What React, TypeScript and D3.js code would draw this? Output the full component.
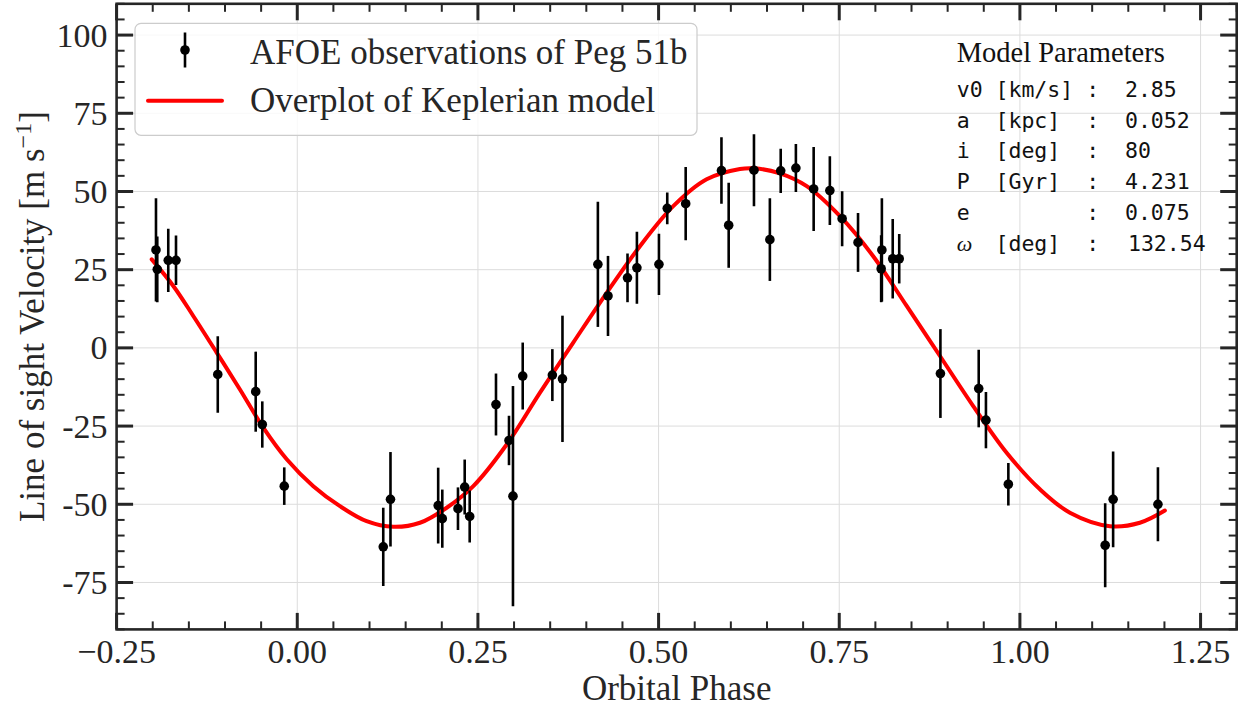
import React from 'react';
import * as d3 from 'd3';

const W = 1244;
const H = 707;

// Observations (orbital phase, line-of-sight velocity, 1-sigma error)
const phase = [
  -0.1955, -0.1937, -0.1785, -0.1678, -0.110, -0.0575, -0.0484, -0.018,
  0.119, 0.129, 0.195, 0.2007, 0.2224, 0.2317, 0.2386, 0.275, 0.293, 0.2985,
  0.312, 0.353, 0.367, 0.416, 0.430, 0.457, 0.470, 0.5005, 0.512, 0.5375,
  0.587, 0.597, 0.632, 0.654, 0.669, 0.690, 0.7146, 0.737, 0.754, 0.776,
  0.809, 0.808, 0.824, 0.833, 0.890, 0.943, 0.953, 0.984, 1.118, 1.129, 1.191,
];
const velocity = [
  31.3, 25.1, 28.0, 28.0, -8.5, -14.0, -24.5, -44.2,
  -63.6, -48.4, -50.4, -54.6, -51.4, -44.5, -53.9, -18.1, -29.6, -47.4,
  -9.0, -8.7, -9.9, 26.7, 16.6, 22.4, 25.6, 26.7, 44.6, 46.1,
  56.7, 39.2, 56.8, 34.6, 56.6, 57.5, 50.8, 50.3, 41.3, 33.7,
  31.3, 25.3, 28.5, 28.5, -8.2, -13.0, -23.1, -43.6, -63.1, -48.4, -50.0,
];
const velErr = [
  16.5, 10.5, 10.1, 7.9, 12.2, 12.8, 7.4, 6.0,
  12.5, 15.1, 12.1, 9.3, 6.8, 8.8, 8.3, 9.9, 7.9, 35.2,
  10.7, 8.3, 20.2, 20.0, 12.8, 7.8, 11.5, 9.8, 5.1, 11.7,
  10.6, 13.6, 11.5, 13.2, 7.1, 7.7, 13.4, 11.0, 8.8, 9.4,
  16.5, 10.7, 12.7, 7.9, 14.2, 12.4, 9.0, 6.8, 13.4, 15.3, 11.8,
];

// Keplerian model curve
const modelPhase = [
  -0.2014, -0.1715, -0.1439, -0.1115, -0.0793, -0.047, -0.0146, 0.0222,
  0.0591, 0.096, 0.1329, 0.1698, 0.2068, 0.2436, 0.2898, 0.3359, 0.3819,
  0.4282, 0.4742, 0.5203, 0.5665, 0.6126, 0.6333, 0.668, 0.705, 0.751,
  0.797, 0.8433, 0.8894, 0.9354, 0.9816, 1.0277, 1.0692, 1.1245, 1.166, 1.2006,
];
const modelVel = [
  28.3, 19.8, 10.2, -1.5, -13.3, -25.5, -35.6, -44.2,
  -50.6, -55.4, -57.2, -55.9, -51.1, -44.2, -30.9, -14.3, 1.7,
  17.6, 32.5, 45.3, 53.9, 57.2, 57.4, 55.8, 51.7, 42.1,
  29.3, 13.4, -2.6, -18.6, -33.5, -45.2, -52.7, -57.0, -55.9, -52.0,
];

const xTicks = [-0.25, 0, 0.25, 0.5, 0.75, 1.0, 1.25];
const xTickLabels = ['\u22120.25', '0.00', '0.25', '0.50', '0.75', '1.00', '1.25'];
const yTicks = [-75, -50, -25, 0, 25, 50, 75, 100];
const yTickLabels = ['-75', '-50', '-25', '0', '25', '50', '75', '100'];

const paramLabels = ['v0', 'a', 'i', 'P', 'e', '\u03c9'];
const paramUnits = ['[km/s]', '[kpc]', '[deg]', '[Gyr]', '', '[deg]'];
const paramValues = ['2.85', '0.052', '80', '4.231', '0.075', '132.54'];

const legendLabels = ['AFOE observations of Peg 51b', 'Overplot of Keplerian model'];

const X0 = 116.6, X1 = 1236.7, Y0 = 629.4, Y1 = 3.8;
const SERIF = '"Liberation Serif", "DejaVu Serif", serif';
const MONO = '"DejaVu Sans Mono", monospace';
const INK = '#262626';

export default function App() {
  const x = d3.scaleLinear().domain([-0.25, 1.3]).range([X0, X1]);
  const y = d3.scaleLinear().domain([-90, 110]).range([Y0, Y1]);

  const xMinor = d3.range(-0.25, 1.3001, 0.05).filter(v => !xTicks.some(t => Math.abs(t - v) < 1e-6));
  const yMinor = d3.range(-90, 110.001, 5).filter(v => !yTicks.some(t => Math.abs(t - v) < 1e-6));

  const line = d3.line<number>()
    .x((_, i) => x(modelPhase[i]))
    .y((_, i) => y(modelVel[i]))
    .curve(d3.curveCatmullRom.alpha(0.5));
  const modelPath = line(modelPhase) || '';

  const charW = 21.5 * 0.602;
  const px0 = 956.7;
  const rowY = (i: number) => 97 + i * 30.7;

  return (
    <svg width={W} height={H} style={{ position: 'absolute', left: 0, top: 0, background: '#fff' }}>
      <rect x={0} y={0} width={W} height={H} fill="#fff" />
      <defs>
        <clipPath id="plotclip">
          <rect x={X0} y={Y1} width={X1 - X0} height={Y0 - Y1} />
        </clipPath>
      </defs>
      {/* grid */}
      <g stroke="#dcdcdc" strokeWidth={1}>
        {xTicks.map(t => (
          <line key={'gx' + t} x1={x(t)} x2={x(t)} y1={Y1} y2={Y0} />
        ))}
        {yTicks.map(t => (
          <line key={'gy' + t} x1={X0} x2={X1} y1={y(t)} y2={y(t)} />
        ))}
      </g>

      {/* model parameters text */}
      <g fill="#111">
        <text x={px0} y={61.7} fontFamily={SERIF} fontSize={28.5}>Model Parameters</text>
        {paramLabels.map((lab, i) => (
          <text key={'p' + i} y={rowY(i)} fontFamily={MONO} fontSize={21.5}>
            {lab === '\u03c9' ? (
              <tspan x={px0} fontFamily={SERIF} fontStyle="italic" fontSize={22}>{lab}</tspan>
            ) : (
              <tspan x={px0}>{lab}</tspan>
            )}
            <tspan x={px0 + 3 * charW}>{paramUnits[i]}</tspan>
            <tspan x={px0 + 10 * charW}>:</tspan>
            <tspan x={px0 + 13 * charW + (lab === '\u03c9' ? 3 : 0)}>{paramValues[i]}</tspan>
          </text>
        ))}
      </g>

      {/* data */}
      <g clipPath="url(#plotclip)">
        <path d={modelPath} fill="none" stroke="#ff0000" strokeWidth={4} strokeLinejoin="round" strokeLinecap="round" />
        <g stroke="#000" strokeWidth={2.6}>
          {phase.map((p, i) => (
            <line key={'e' + i} x1={x(p)} x2={x(p)} y1={y(velocity[i] - velErr[i])} y2={y(velocity[i] + velErr[i])} />
          ))}
        </g>
        <g fill="#000">
          {phase.map((p, i) => (
            <circle key={'c' + i} cx={x(p)} cy={y(velocity[i])} r={4.8} />
          ))}
        </g>
      </g>

      {/* legend */}
      <g>
        <rect x={135} y={23.3} width={562} height={112} rx={6} ry={6} fill="rgba(255,255,255,0.8)" stroke="#cccccc" strokeWidth={1.2} />
        <line x1={185} x2={185} y1={32.5} y2={67.5} stroke="#000" strokeWidth={2.6} />
        <circle cx={185} cy={50} r={4.8} fill="#000" />
        <text x={250} y={63.5} fontFamily={SERIF} fontSize={35} fill={INK}>{legendLabels[0]}</text>
        <line x1={148} x2={222} y1={100.7} y2={100.7} stroke="#ff0000" strokeWidth={4} strokeLinecap="round" />
        <text x={250} y={111.5} fontFamily={SERIF} fontSize={35} fill={INK}>{legendLabels[1]}</text>
      </g>

      {/* spines */}
      <rect x={X0} y={Y1} width={X1 - X0} height={Y0 - Y1} fill="none" stroke={INK} strokeWidth={2.6} />

      {/* ticks (inward, all sides) */}
      <g stroke={INK}>
        {xTicks.map(t => (
          <g key={'xt' + t} strokeWidth={3}>
            <line x1={x(t)} x2={x(t)} y1={Y0} y2={Y0 - 16.5} />
            <line x1={x(t)} x2={x(t)} y1={Y1} y2={Y1 + 16.5} />
          </g>
        ))}
        {xMinor.map(t => (
          <g key={'xm' + t} strokeWidth={2}>
            <line x1={x(t)} x2={x(t)} y1={Y0} y2={Y0 - 8} />
            <line x1={x(t)} x2={x(t)} y1={Y1} y2={Y1 + 8} />
          </g>
        ))}
        {yTicks.map(t => (
          <g key={'yt' + t} strokeWidth={3}>
            <line x1={X0} x2={X0 + 16.5} y1={y(t)} y2={y(t)} />
            <line x1={X1} x2={X1 - 16.5} y1={y(t)} y2={y(t)} />
          </g>
        ))}
        {yMinor.map(t => (
          <g key={'ym' + t} strokeWidth={2}>
            <line x1={X0} x2={X0 + 8} y1={y(t)} y2={y(t)} />
            <line x1={X1} x2={X1 - 8} y1={y(t)} y2={y(t)} />
          </g>
        ))}
      </g>

      {/* tick labels */}
      <g fontFamily={SERIF} fontSize={34} fill={INK}>
        {xTicks.map((t, i) => (
          <text key={'xl' + t} x={x(t)} y={663} textAnchor="middle">{xTickLabels[i]}</text>
        ))}
        {yTicks.map((t, i) => (
          <text key={'yl' + t} x={107.5} y={y(t) + 11.5} textAnchor="end">{yTickLabels[i]}</text>
        ))}
      </g>

      {/* axis labels */}
      <text x={(X0 + X1) / 2} y={700} textAnchor="middle" fontFamily={SERIF} fontSize={35} fill={INK}>Orbital Phase</text>
      <text transform={`translate(44,${(Y0 + Y1) / 2}) rotate(-90)`} textAnchor="middle" fontFamily={SERIF} fontSize={35} fill={INK}>
        Line of sight Velocity [m s<tspan dy={-13} fontSize={24}>{'\u22121'}</tspan><tspan dy={13}>]</tspan>
      </text>
    </svg>
  );
}
